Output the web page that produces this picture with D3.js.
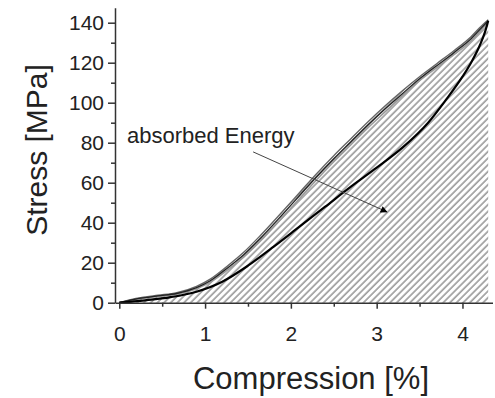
<!DOCTYPE html>
<html>
<head>
<meta charset="utf-8">
<script src="https://cdn.jsdelivr.net/npm/d3@7"></script>
<style>
  body { margin: 0; background: #fff; }
  svg text { font-family: "Liberation Sans", Arial, Helvetica, sans-serif; }
</style>
</head>
<body>
<div id="chart"></div>
<script>
// loading branch (several overlapping cycles) and unloading branch
const loadX  = [0, 0.13, 0.28, 0.45, 0.67, 0.9, 1.06, 1.25, 1.45, 1.64, 1.9, 2.1, 2.3, 2.5, 2.7, 2.9, 3.1, 3.3, 3.5, 3.7, 3.9, 4.1, 4.2, 4.3];
const load1  = [0, 1.3, 2.4, 3.4, 4.6, 7.5, 11, 17, 24, 32, 44, 53.5, 63, 72, 80.5, 89, 97, 104.5, 112, 118.5, 125, 132, 136.5, 141];
const load2  = [0, 1.1, 2.2, 3.1, 4.2, 7.0, 10.3, 16, 22.8, 30.6, 42.5, 52, 61.5, 70.5, 79, 87.5, 95.5, 103.5, 111, 117.5, 124, 131, 135.5, 140.5];
const load3  = [0, 1.5, 2.7, 3.7, 5.0, 8.2, 11.8, 18, 25.2, 33.4, 45.5, 55, 64.5, 73.5, 82, 90.5, 98.5, 106, 113, 119.5, 126, 133, 137.5, 141.5];

const unloadX = [0, 0.3, 0.6, 0.9, 1.2, 1.5, 1.8, 2.1, 2.4, 2.7, 3.0, 3.3, 3.6, 3.8, 4.0, 4.1, 4.2, 4.26, 4.3];
const unload  = [0, 1.2, 2.8, 5.5, 10.5, 18.5, 28, 38, 48, 58, 67.5, 77.5, 90, 101, 113, 120, 128.5, 135, 141];

const xTicks = [0, 1, 2, 3, 4];
const xMinor = [0.5, 1.5, 2.5, 3.5];
const yTicks = [0, 20, 40, 60, 80, 100, 120, 140];
const yMinor = [10, 30, 50, 70, 90, 110, 130];

const annotation = { text: "absorbed Energy", x: 0.09, y: 80 };
const arrowFrom = [1.56, 75.4];
const arrowTo = [3.12, 45.4];

const width = 495, height = 398;
const fontFamily = "'Liberation Sans', Arial, Helvetica, sans-serif";

const svg = d3.select("#chart").append("svg")
    .attr("width", width)
    .attr("height", height);

const x = d3.scaleLinear().domain([-0.05, 4.35]).range([115, 492.5]);
const y = d3.scaleLinear().domain([0, 147.5]).range([302.7, 7.7]);

const defs = svg.append("defs");
defs.append("pattern")
    .attr("id", "hatch")
    .attr("patternUnits", "userSpaceOnUse")
    .attr("width", 4.7)
    .attr("height", 10)
    .attr("patternTransform", "rotate(45)")
  .append("line")
    .attr("x1", 1).attr("y1", 0)
    .attr("x2", 1).attr("y2", 10)
    .attr("stroke", "#5a5a5a")
    .attr("stroke-width", 1);

defs.append("marker")
    .attr("id", "arrowhead")
    .attr("viewBox", "0 0 10 10")
    .attr("refX", 9).attr("refY", 5)
    .attr("markerWidth", 11).attr("markerHeight", 7)
    .attr("markerUnits", "userSpaceOnUse")
    .attr("orient", "auto")
  .append("path")
    .attr("d", "M0,0L10,5L0,10Z")
    .attr("fill", "#000");

const loadData = loadX.map((d, i) => ({ x: d, y: load3[i] }));

// hatched area below the loading curve
const area = d3.area()
    .x(d => x(d.x))
    .y0(y(0))
    .y1(d => y(d.y))
    .curve(d3.curveMonotoneX);

svg.append("path")
    .datum(loadData)
    .attr("fill", "url(#hatch)")
    .attr("d", area);

const line = d3.line()
    .x(d => x(d.x))
    .y(d => y(d.y))
    .curve(d3.curveMonotoneX);

const cycles = [
  { vals: load2, color: "#999", w: 1.6 },
  { vals: load3, color: "#666", w: 1.4 },
  { vals: load1, color: "#222", w: 1.3 }
];
cycles.forEach(c => {
  svg.append("path")
      .datum(loadX.map((d, i) => ({ x: d, y: c.vals[i] })))
      .attr("fill", "none")
      .attr("stroke", c.color)
      .attr("stroke-width", c.w)
      .attr("d", line);
});

svg.append("path")
    .datum(unloadX.map((d, i) => ({ x: d, y: unload[i] })))
    .attr("fill", "none")
    .attr("stroke", "#000")
    .attr("stroke-width", 2.2)
    .attr("d", line);

// axes
const fontTick = "21px";

const xAxis = svg.append("g")
    .attr("transform", `translate(0,${y(0)})`)
    .call(d3.axisBottom(x).tickValues(xTicks).tickFormat(d3.format("d"))
      .tickSize(6).tickPadding(17).tickSizeOuter(0));
xAxis.attr("font-family", fontFamily);
xAxis.selectAll("text").style("font-size", fontTick).attr("fill", "#222");

svg.append("g")
    .attr("transform", `translate(0,${y(0)})`)
    .call(d3.axisBottom(x).tickValues(xMinor).tickSize(4).tickFormat(""))
    .call(g => g.select(".domain").remove());

const yAxis = svg.append("g")
    .attr("transform", `translate(${x(-0.05)},0)`)
    .call(d3.axisLeft(y).tickValues(yTicks).tickFormat(d3.format("d"))
      .tickSize(7).tickPadding(4).tickSizeOuter(0));
yAxis.attr("font-family", fontFamily);
yAxis.selectAll("text").style("font-size", fontTick).attr("fill", "#222");

svg.append("g")
    .attr("transform", `translate(${x(-0.05)},0)`)
    .call(d3.axisLeft(y).tickValues(yMinor).tickSize(4).tickFormat(""))
    .call(g => g.select(".domain").remove());

svg.selectAll(".domain, .tick line")
    .attr("stroke", "#333")
    .attr("stroke-width", 1.5);

// annotation
svg.append("line")
    .attr("x1", x(arrowFrom[0])).attr("y1", y(arrowFrom[1]))
    .attr("x2", x(arrowTo[0])).attr("y2", y(arrowTo[1]))
    .attr("stroke", "#444")
    .attr("stroke-width", 1)
    .attr("marker-end", "url(#arrowhead)");

svg.append("text")
    .attr("x", x(annotation.x))
    .attr("y", y(annotation.y))
    .attr("font-family", fontFamily)
    .attr("font-size", "22px")
    .attr("fill", "#222")
    .text(annotation.text);

// axis titles
svg.append("text")
    .attr("x", 311)
    .attr("y", 389)
    .attr("text-anchor", "middle")
    .attr("font-family", fontFamily)
    .attr("font-size", "31px")
    .attr("fill", "#222")
    .text("Compression [%]");

svg.append("text")
    .attr("transform", "translate(47,150) rotate(-90)")
    .attr("text-anchor", "middle")
    .attr("font-family", fontFamily)
    .attr("font-size", "30px")
    .attr("fill", "#222")
    .text("Stress [MPa]");
</script>
</body>
</html>
